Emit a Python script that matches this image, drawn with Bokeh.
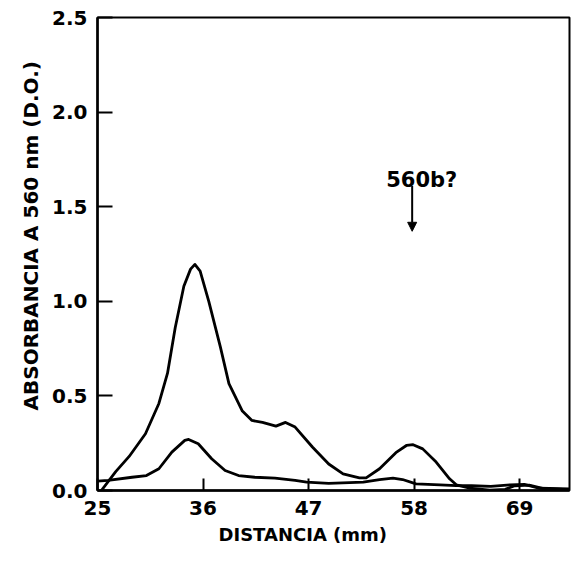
from bokeh.plotting import figure
from bokeh.models import FixedTicker, Label, Arrow, NormalHead, Range1d, Title
from bokeh.embed import file_html
from bokeh.resources import INLINE

# ---- data ----
x_ticks = [25, 36, 47, 58, 69]
y_ticks = [0.0, 0.5, 1.0, 1.5, 2.0, 2.5]
y_tick_labels = ["0.0", "0.5", "1.0", "1.5", "2.0", "2.5"]

upper_x = [25.4, 26.9, 28.3, 30.0, 31.4, 32.3, 33.1, 34.0, 34.7, 35.15, 35.7, 36.6,
           37.8, 38.7, 40.1, 41.1, 42.2, 43.6, 44.6, 45.6, 47.4, 49.1, 50.6, 52.3,
           53.0, 54.4, 56.1, 57.2, 57.9, 58.9, 60.3, 61.7, 62.4, 63.8, 65.9, 67.5,
           68.5, 70.0, 71.5, 74.2]
upper_y = [0.0, 0.10, 0.18, 0.30, 0.46, 0.62, 0.86, 1.08, 1.17, 1.195, 1.16, 1.0,
           0.76, 0.565, 0.42, 0.37, 0.36, 0.34, 0.36, 0.335, 0.23, 0.14, 0.088, 0.067,
           0.067, 0.115, 0.20, 0.238, 0.242, 0.22, 0.15, 0.062, 0.03, 0.012, 0.002, 0.006,
           0.025, 0.028, 0.01, 0.005]

lower_x = [25.0, 26.1, 28.6, 30.1, 31.4, 32.75, 34.1, 34.5, 35.5, 36.9, 38.3, 39.7,
           41.4, 43.5, 45.6, 46.8, 49.1, 52.7, 54.4, 55.8, 56.8, 58.2, 60.7, 62.4,
           64.0, 66.0, 68.0, 69.5, 71.0, 74.2]
lower_y = [0.05, 0.053, 0.07, 0.079, 0.115, 0.203, 0.265, 0.27, 0.247, 0.168, 0.106, 0.079,
           0.07, 0.065, 0.053, 0.044, 0.038, 0.044, 0.058, 0.065, 0.058, 0.035, 0.03, 0.026,
           0.025, 0.022, 0.03, 0.032, 0.012, 0.008]

annot_text = "560b?"
annot_x = 57.8
annot_y_start = 1.61
annot_y_end = 1.37

x_title = "DISTANCIA (mm)"
y_title = "ABSORBANCIA A 560 nm (D.O.)"

FONT = "DejaVu Sans"

p = figure(width=571, height=561, frame_width=472, frame_height=473,
           x_range=Range1d(25, 74.2), y_range=Range1d(0, 2.5),
           output_backend="svg", toolbar_location=None,
           min_border_left=97, min_border_right=2, min_border_top=17, min_border_bottom=71)
p.background_fill_color = "white"
p.border_fill_color = "white"
p.grid.visible = False
p.outline_line_color = "black"
p.outline_line_width = 2
p.outline_line_alpha = 1

p.xaxis.ticker = FixedTicker(ticks=x_ticks)
p.yaxis.ticker = FixedTicker(ticks=y_ticks)
p.yaxis.major_label_overrides = {v: s for v, s in zip(y_ticks, y_tick_labels)}

for ax in (p.xaxis[0], p.yaxis[0]):
    ax.axis_line_width = 2.5
    ax.axis_line_color = "black"
    ax.major_tick_line_width = 2
    ax.major_tick_line_color = "black"
    ax.major_tick_out = 0
    ax.minor_tick_in = 0
    ax.minor_tick_out = 0
    ax.major_label_text_font = FONT
    ax.major_label_text_font_size = "20px"
    ax.major_label_text_font_style = "bold"
    ax.major_label_text_color = "black"
    ax.major_label_standoff = 10

p.yaxis.major_tick_in = 15
p.xaxis.major_tick_in = 12

p.line(upper_x, upper_y, line_color="black", line_width=2.8, line_join="round")
p.line(lower_x, lower_y, line_color="black", line_width=2.8, line_join="round")

# annotation arrow and text
p.add_layout(Arrow(end=NormalHead(size=9, fill_color="black", line_color="black"),
                   x_start=annot_x, y_start=annot_y_start, x_end=annot_x, y_end=annot_y_end,
                   line_color="black", line_width=2))
p.add_layout(Label(x=annot_x + 1.0, y=1.64, text=annot_text, text_align="center",
                   text_baseline="alphabetic", text_font=FONT, text_font_size="21px",
                   text_font_style="bold", text_color="black"))

# axis titles as side-panel titles so they can be offset along the axis
xt = Title(text=x_title, align="left", offset=121, standoff=9,
           text_font=FONT, text_font_size="18px", text_font_style="bold", text_color="black")
p.add_layout(xt, "below")
yt = Title(text=y_title, align="left", offset=80, standoff=14,
           text_font=FONT, text_font_size="20px", text_font_style="bold", text_color="black")
p.add_layout(yt, "left")

open("out.html", "w").write(file_html(p, INLINE))
